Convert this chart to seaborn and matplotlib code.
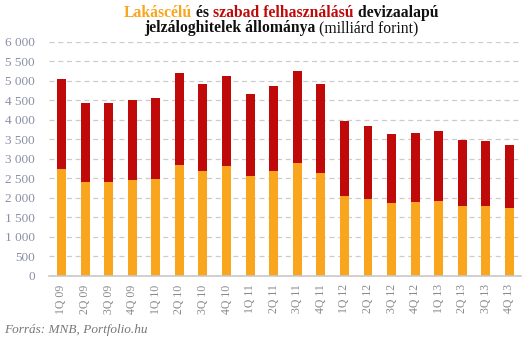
import matplotlib
matplotlib.use("Agg")
import matplotlib.pyplot as plt
import seaborn as sns
import pandas as pd

quarters = ["1Q 09", "2Q 09", "3Q 09", "4Q 09", "1Q 10", "2Q 10", "3Q 10", "4Q 10",
            "1Q 11", "2Q 11", "3Q 11", "4Q 11", "1Q 12", "2Q 12", "3Q 12", "4Q 12",
            "1Q 13", "2Q 13", "3Q 13", "4Q 13"]
housing = [2740, 2407, 2407, 2458, 2484, 2843, 2689, 2817, 2561, 2689,
           2894, 2638, 2049, 1972, 1869, 1895, 1920, 1793, 1793, 1741]
total = [5045, 4430, 4430, 4507, 4558, 5199, 4917, 5122, 4661, 4866,
         5250, 4917, 3969, 3841, 3636, 3662, 3713, 3483, 3457, 3355]
yticks = [0, 500, 1000, 1500, 2000, 2500, 3000, 3500, 4000, 4500, 5000, 5500, 6000]

ORANGE = "#F9A61E"
RED = "#C00A0A"
GREY = "#8A8FA6"

sns.set_style("white")
plt.rcParams['font.family'] = ['Liberation Serif', 'DejaVu Serif']

df = pd.DataFrame({"q": quarters, "housing": housing, "total": total})

fig = plt.figure(figsize=(5.31, 3.42), dpi=100)
ax = fig.add_axes([49/531, 1-276/342, (521-49)/531, (276-41.7)/342])

sns.barplot(data=df, x="q", y="total", color=RED, width=0.38, saturation=1, ax=ax,
            zorder=3, linewidth=0, edgecolor="none")
sns.barplot(data=df, x="q", y="housing", color=ORANGE, width=0.38, saturation=1, ax=ax,
            zorder=4, linewidth=0, edgecolor="none")

ax.set_xlim(-0.53, 19.49)
ax.set_ylim(0, 6000)
ax.set_yticks(yticks)
ax.set_yticklabels([f"{v:,}".replace(",", " ") for v in yticks])
ax.set_xlabel("")
ax.set_ylabel("")
for s in ["top", "right", "left"]:
    ax.spines[s].set_visible(False)
ax.spines["bottom"].set_color("#c8c8c8")
ax.spines["bottom"].set_linewidth(1.2)
ax.spines["bottom"].set_zorder(5)
ax.yaxis.grid(True, color="#cccccc", linestyle=(0, (4, 3)), linewidth=0.9, zorder=0)
ax.set_axisbelow(True)
ax.tick_params(axis="y", length=0, pad=10, labelsize=9.5, labelcolor=GREY)
ax.tick_params(axis="x", length=0, pad=6, labelsize=8.5, labelcolor="#8a8a8a")
for lab in ax.get_xticklabels():
    lab.set_rotation(90)
    lab.set_va("top")

# title with colored pieces
fig.canvas.draw()
r = fig.canvas.get_renderer()

def line(pieces, y, cx=281/531):
    texts = []
    for s, c, w in pieces:
        t = fig.text(0, y, s, color=c, fontweight=w, fontsize=11.3, va="baseline", ha="left")
        texts.append(t)
    widths = [t.get_window_extent(r).width for t in texts]
    totw = sum(widths)
    x = cx * fig.bbox.width - totw / 2
    for t, w in zip(texts, widths):
        t.set_x(x / fig.bbox.width)
        x += w

line([("Lakáscélú", ORANGE, "bold"), (" és ", "#111111", "bold"),
      ("szabad felhasználású", RED, "bold"), (" devizaalapú", "#111111", "bold")], 1 - 17/342)
line([("jelzáloghitelek állománya", "#111111", "bold"), (" (milliárd forint)", "#111111", "normal")],
     1 - 32/342)

fig.text(4/531, 1 - 333/342, "Forrás: MNB, Portfolio.hu", fontsize=9.5, style="italic",
         color="#777777", va="baseline", ha="left")

fig.savefig("out.png", dpi=100)
